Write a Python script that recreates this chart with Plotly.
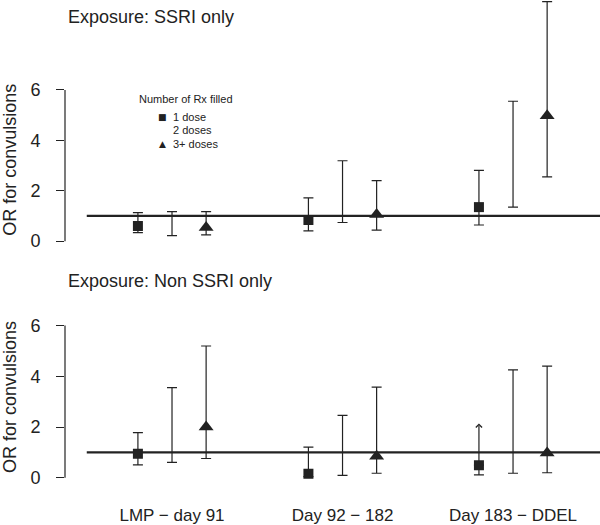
import plotly.graph_objects as go
from plotly.subplots import make_subplots

# ---------------- data ----------------
groups = ["LMP \u2212 day 91", "Day 92 \u2212 182", "Day 183 \u2212 DDEL"]
group_pos = [1, 2, 3]
dose_offsets = [-0.2, 0.0, 0.2]   # 1 dose, 2 doses, 3+ doses

# Exposure: SSRI only
ssri_or_1 = [0.60, 0.84, 1.35]
ssri_lo_1 = [0.34, 0.41, 0.64]
ssri_hi_1 = [1.13, 1.72, 2.81]
ssri_lo_2 = [0.22, 0.74, 1.35]
ssri_hi_2 = [1.17, 3.19, 5.55]
ssri_or_3 = [0.54, 1.06, 4.97]
ssri_lo_3 = [0.25, 0.44, 2.55]
ssri_hi_3 = [1.17, 2.40, 9.50]

# Exposure: Non SSRI only
non_or_1 = [0.95, 0.16, 0.50]
non_lo_1 = [0.51, 0.05, 0.12]
non_hi_1 = [1.78, 1.21, 2.14]
non_arrow_1 = [False, False, True]   # upper limit drawn as an arrow
non_lo_2 = [0.61, 0.10, 0.18]
non_hi_2 = [3.55, 2.46, 4.25]
non_or_3 = [2.00, 0.85, 0.98]
non_lo_3 = [0.76, 0.18, 0.20]
non_hi_3 = [5.19, 3.57, 4.40]

y_ticks = [0, 2, 4, 6]
ref_value = 1

# ---------------- style ----------------
W, H = 600, 525
INK = "#222222"
FONT = "Liberation Sans, Arial, sans-serif"

fig = make_subplots(rows=2, cols=1, vertical_spacing=0.0)

def px_x(p):
    return p / W

def px_y(p):
    return 1 - p / H


def add_panel(row, or1, lo1, hi1, lo2, hi2, or3, lo3, hi3, arrow1=None):
    x1 = [g + dose_offsets[0] for g in group_pos]
    x2 = [g + dose_offsets[1] for g in group_pos]
    x3 = [g + dose_offsets[2] for g in group_pos]
    plus1 = [h - o for h, o in zip(hi1, or1)]
    if arrow1:
        plus1 = [0 if a else p for a, p in zip(arrow1, plus1)]
    eb = dict(type="data", symmetric=False, color=INK, thickness=1.2, width=5)
    # 1 dose
    fig.add_trace(go.Scatter(
        x=x1, y=or1, mode="markers", name="1 dose", showlegend=False,
        marker=dict(symbol="square", size=10, color=INK),
        error_y=dict(eb, array=plus1, arrayminus=[o - l for o, l in zip(or1, lo1)]),
    ), row=row, col=1)
    # 2 doses (interval only)
    fig.add_trace(go.Scatter(
        x=x2, y=lo2, mode="markers", name="2 doses", showlegend=False,
        marker=dict(size=1, color="rgba(0,0,0,0)"),
        error_y=dict(eb, array=[h - l for h, l in zip(hi2, lo2)], arrayminus=[0] * len(lo2)),
    ), row=row, col=1)
    # 3+ doses
    fig.add_trace(go.Scatter(
        x=x3, y=or3, mode="markers", name="3+ doses", showlegend=False,
        marker=dict(symbol="triangle-up", size=13, color=INK),
        error_y=dict(eb, array=[h - o for h, o in zip(hi3, or3)],
                     arrayminus=[o - l for o, l in zip(or3, lo3)]),
    ), row=row, col=1)
    xr = "x" if row == 1 else "x2"
    yr = "y" if row == 1 else "y2"
    if arrow1:
        for a, xx, o, h in zip(arrow1, x1, or1, hi1):
            if a:
                fig.add_annotation(x=xx, y=h, ax=xx, ay=o, xref=xr, yref=yr,
                                   axref=xr, ayref=yr, text="", showarrow=True,
                                   arrowhead=4, arrowsize=1.0, arrowwidth=1.2,
                                   arrowcolor=INK)
    # reference line at OR = 1
    fig.add_shape(type="line", xref=xr, yref=yr, x0=0.5, x1=3.51, y0=ref_value, y1=ref_value,
                  line=dict(color=INK, width=2.2), layer="below")
    # R-style y axis line spanning the ticks
    fig.add_shape(type="line", xref=xr + " domain", yref=yr, x0=0, x1=0,
                  y0=min(y_ticks), y1=max(y_ticks), line=dict(color=INK, width=1.2))


add_panel(1, ssri_or_1, ssri_lo_1, ssri_hi_1, ssri_lo_2, ssri_hi_2,
          ssri_or_3, ssri_lo_3, ssri_hi_3)
add_panel(2, non_or_1, non_lo_1, non_hi_1, non_lo_2, non_hi_2,
          non_or_3, non_lo_3, non_hi_3, arrow1=non_arrow_1)

# pixel geometry
x_dom = [px_x(65), 1.0]
x_rng = [0.3724, 3.510]
top_dom = [px_y(250), px_y(0)]
top_rng = [(243 - 250) / 25.4, 243 / 25.4]
bot_dom = [px_y(504), px_y(270)]
bot_rng = [(481.5 - 504) / 25.6, (481.5 - 270) / 25.6]

yaxis_common = dict(tickvals=y_ticks, ticks="outside", ticklen=8, tickwidth=1.2,
                    tickcolor=INK, showline=False, showgrid=False, zeroline=False,
                    tickfont=dict(family=FONT, size=18, color=INK), ticklabelstandoff=12)

fig.update_layout(
    width=W, height=H, margin=dict(l=0, r=0, t=0, b=0),
    paper_bgcolor="white", plot_bgcolor="white", showlegend=False,
    font=dict(family=FONT, color=INK),
    xaxis=dict(domain=x_dom, range=x_rng, showline=False, showgrid=False, zeroline=False,
               showticklabels=False, ticks=""),
    xaxis2=dict(domain=x_dom, range=x_rng, showline=False, showgrid=False, zeroline=False,
                tickvals=group_pos, ticktext=groups, ticks="", ticklabelstandoff=3,
                tickfont=dict(family=FONT, size=17, color=INK)),
    yaxis=dict(yaxis_common, domain=top_dom, range=top_rng),
    yaxis2=dict(yaxis_common, domain=bot_dom, range=bot_rng),
)

# panel titles
fig.add_annotation(x=px_x(66), y=px_y(17), xref="paper", yref="paper", xanchor="left",
                   yanchor="middle", text="Exposure: SSRI only", showarrow=False,
                   font=dict(family=FONT, size=18, color=INK))
fig.add_annotation(x=px_x(66), y=px_y(283), xref="paper", yref="paper", xanchor="left",
                   yanchor="middle", text="Exposure: Non SSRI only", showarrow=False,
                   font=dict(family=FONT, size=18, color=INK))
# y titles
for yc in (161, 400):
    fig.add_annotation(x=px_x(10), y=px_y(yc), xref="paper", yref="paper", xanchor="center",
                       yanchor="middle", text="OR for convulsions", textangle=-90,
                       showarrow=False, font=dict(family=FONT, size=18, color=INK))

# legend (text annotations)
fig.add_annotation(x=px_x(186), y=px_y(100), xref="paper", yref="paper", xanchor="center",
                   yanchor="middle", text="Number of Rx filled", showarrow=False,
                   font=dict(family=FONT, size=11, color=INK))
legend_rows = [("\u25A0", "1 dose", 118), ("", "2 doses", 131), ("\u25B2", "3+ doses", 145)]
for sym, lab, yy in legend_rows:
    if sym:
        fig.add_annotation(x=px_x(162), y=px_y(yy), xref="paper", yref="paper",
                           xanchor="center", yanchor="middle", text=sym, showarrow=False,
                           font=dict(family="DejaVu Sans", size=9, color=INK))
    fig.add_annotation(x=px_x(171), y=px_y(yy), xref="paper", yref="paper", xanchor="left",
                       yanchor="middle", text=lab, showarrow=False,
                       font=dict(family=FONT, size=11, color=INK))

fig.write_html("out.html", config={"displayModeBar": False},
               post_script="document.body.style.margin='0';document.body.style.overflow='hidden';")
